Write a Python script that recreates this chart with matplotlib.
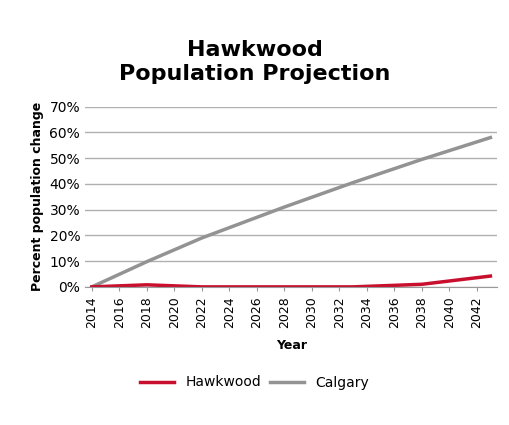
import matplotlib.pyplot as plt
from matplotlib.ticker import PercentFormatter

years = [2014, 2018, 2022, 2028, 2033, 2038, 2043]
calgary = [0.0, 9.8, 19.0, 31.0, 40.5, 49.5, 58.0]
hawkwood = [0.0, 0.8, 0.0, 0.0, 0.0, 1.0, 4.2]
tick_years = list(range(2014, 2043, 2))

fig = plt.figure(figsize=(5.09, 4.25), dpi=100)
ax = fig.add_axes([0.167, 0.325, 0.81, 0.424])

ax.plot(years, calgary, color="#939393", linewidth=2.5, label="Calgary")
ax.plot(years, hawkwood, color="#c8102e", linewidth=2.5, label="Hawkwood")

ax.set_xlim(2013.5, 2043.5)
ax.set_ylim(0, 70)
ax.set_yticks(range(0, 71, 10))
ax.yaxis.set_major_formatter(PercentFormatter(decimals=0))
ax.set_xticks(tick_years)
ax.set_xticklabels([str(y) for y in tick_years], rotation=90, fontsize=9)
ax.tick_params(axis="y", labelsize=10, length=0)
ax.tick_params(axis="x", length=3, color="#999999")
ax.grid(axis="y", color="#b0b0b0", linewidth=1)
ax.set_axisbelow(True)
for side in ("top", "right", "left"):
    ax.spines[side].set_visible(False)
ax.spines["bottom"].set_color("#999999")

ax.set_xlabel("Year", fontsize=9, fontweight="bold", labelpad=8)
ax.set_ylabel("Percent population change", fontsize=9, fontweight="bold", labelpad=4)
fig.suptitle("Hawkwood\nPopulation Projection", fontsize=16, fontweight="bold", y=0.905)

handles, labels = ax.get_legend_handles_labels()
fig.legend(handles[::-1], labels[::-1], loc="center", bbox_to_anchor=(0.5, 0.1), ncol=2,
           frameon=False, fontsize=10, handlelength=2.5, columnspacing=0.6)

fig.savefig("out.png")
